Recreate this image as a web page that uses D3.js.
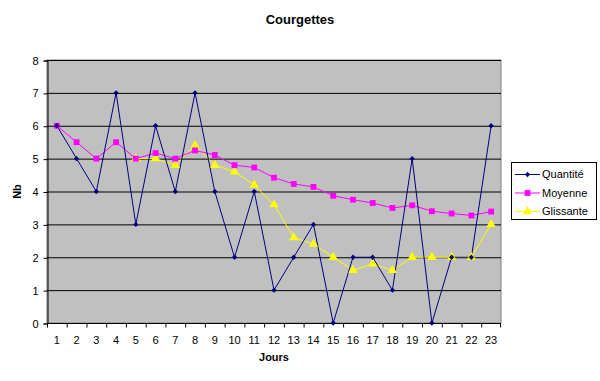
<!DOCTYPE html>
<html><head><meta charset="utf-8">
<script src="https://cdn.jsdelivr.net/npm/d3@7"></script>
<style>body{margin:0;background:#fff}svg{display:block;font-family:Arial,"Liberation Sans",sans-serif}</style>
</head><body><svg id="c" width="600" height="381"></svg>
<script>
const jours = d3.range(1, 24);
const quantite = [6,5,4,7,3,6,4,7,4,2,4,1,2,3,0,2,2,1,5,0,2,2,6];
const moyenne = [6,5.5,5,5.5,5,5.17,5,5.25,5.11,4.8,4.73,4.42,4.23,4.14,3.87,3.75,3.65,3.5,3.58,3.4,3.33,3.27,3.39];
const glissanteJours = d3.range(5, 24);
const glissante = [5,5,4.8,5.4,4.8,4.6,4.2,3.6,2.6,2.4,2,1.6,1.8,1.6,2,2,2,2,3];
const yTicks = [0,1,2,3,4,5,6,7,8];

const svg = d3.select("#c");
const L = 47, R = 501, T = 60, B = 323;
const x = d3.scaleBand().domain(jours).range([L, R]);
const y = d3.scaleLinear().domain([0, 8]).range([B, T]);
const cx = d => x(d) + x.bandwidth() / 2;

svg.append("rect").attr("x", L).attr("y", T).attr("width", R - L).attr("height", B - T)
  .attr("fill", "#c0c0c0").attr("stroke", "#808080");

svg.append("g").selectAll("line").data(yTicks.slice(1)).join("line")
  .attr("x1", L).attr("x2", R).attr("y1", d => y(d) + 0.5).attr("y2", d => y(d) + 0.5)
  .attr("stroke", "#000");

const yAxis = d3.axisLeft(y).tickValues(yTicks).tickSize(4).tickPadding(5);
const gy = svg.append("g").attr("transform", `translate(${L + 0.5},0.5)`).call(yAxis);
gy.selectAll("text").attr("font-size", 11).attr("fill", "#000").attr("font-family", "Arial,'Liberation Sans',sans-serif");

const gx = svg.append("g").attr("transform", `translate(0,${B + 0.5})`);
gx.append("line").attr("x1", L).attr("x2", R).attr("stroke", "#000");
gx.selectAll(".tk").data(jours.concat([24])).join("line")
  .attr("x1", (d, i) => i < 23 ? x(d) + 0.5 : R - 0.5).attr("x2", (d, i) => i < 23 ? x(d) + 0.5 : R - 0.5)
  .attr("y1", 0).attr("y2", 4).attr("stroke", "#000");
gx.selectAll("text").data(jours).join("text")
  .attr("x", d => cx(d)).attr("y", 20).attr("text-anchor", "middle")
  .attr("font-size", 11).text(d => d);
gy.select(".domain").attr("stroke", "#000");

svg.append("text").attr("x", 300).attr("y", 24).attr("text-anchor", "middle")
  .attr("font-size", 13).attr("font-weight", "bold").text("Courgettes");
svg.append("text").attr("x", (L + R) / 2).attr("y", 361).attr("text-anchor", "middle")
  .attr("font-size", 11).attr("font-weight", "bold").text("Jours");
svg.append("text").attr("transform", `translate(21,${(T + B) / 2}) rotate(-90)`).attr("text-anchor", "middle")
  .attr("font-size", 11).attr("font-weight", "bold").text("Nb");

const line = d3.line();
svg.append("path").attr("d", line(glissanteJours.map((d, i) => [cx(d), y(glissante[i])])))
  .attr("fill", "none").attr("stroke", "#ffff00").attr("stroke-width", 1);
svg.append("path").attr("d", line(jours.map((d, i) => [cx(d), y(moyenne[i])])))
  .attr("fill", "none").attr("stroke", "#ff00ff").attr("stroke-width", 1);
svg.append("path").attr("d", line(jours.map((d, i) => [cx(d), y(quantite[i])])))
  .attr("fill", "none").attr("stroke", "#000080").attr("stroke-width", 1);

const tri = d3.symbol().type(d3.symbolTriangle).size(38);
const sq = d3.symbol().type(d3.symbolSquare).size(34);
const dia = d3.symbol().type(d3.symbolSquare).size(14);

svg.append("g").selectAll("path").data(glissanteJours).join("path")
  .attr("d", tri).attr("transform", (d, i) => `translate(${cx(d)},${y(glissante[i])})`).attr("fill", "#ffff00");
svg.append("g").selectAll("path").data(jours).join("path")
  .attr("d", sq).attr("transform", (d, i) => `translate(${cx(d)},${y(moyenne[i])})`).attr("fill", "#ff00ff");
svg.append("g").selectAll("path").data(jours).join("path")
  .attr("d", dia).attr("transform", (d, i) => `translate(${cx(d)},${y(quantite[i])}) rotate(45)`).attr("fill", "#000080");

const legend = [
  {name: "Quantité", color: "#000080", sym: dia, rot: 45},
  {name: "Moyenne", color: "#ff00ff", sym: sq, rot: 0},
  {name: "Glissante", color: "#ffff00", sym: tri, rot: 0}
];
const lg = svg.append("g");
lg.append("rect").attr("x", 511.5).attr("y", 162.5).attr("width", 85).attr("height", 57)
  .attr("fill", "#fff").attr("stroke", "#000");
legend.forEach((s, i) => {
  const yy = 174 + i * 18.5;
  lg.append("line").attr("x1", 515).attr("x2", 540).attr("y1", yy + 0.5).attr("y2", yy + 0.5).attr("stroke", s.color);
  lg.append("path").attr("d", s.sym).attr("transform", `translate(527.5,${yy + 0.5}) rotate(${s.rot})`).attr("fill", s.color);
  lg.append("text").attr("x", 542).attr("y", yy + 4).attr("font-size", 11).text(s.name);
});
</script></body></html>
